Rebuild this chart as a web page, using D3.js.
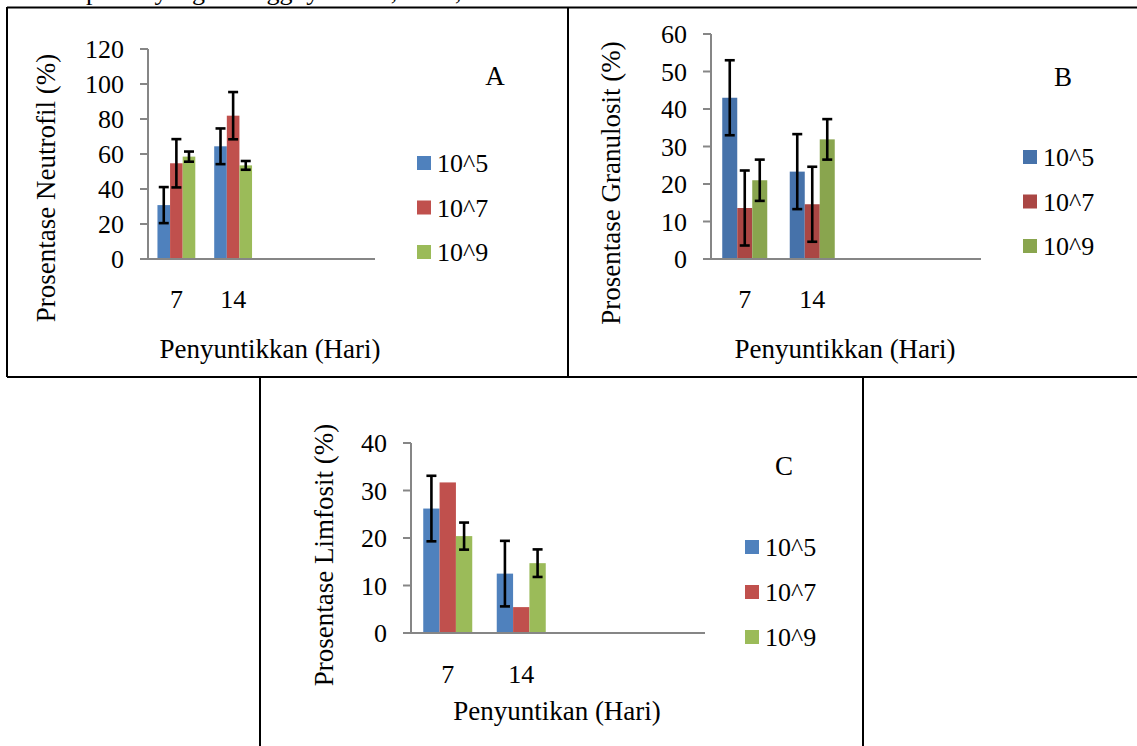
<!DOCTYPE html>
<html lang="id">
<head>
<meta charset="UTF-8">
<title>Prosentase Neutrofil, Granulosit, Limfosit</title>
<script src="https://d3js.org/d3.v7.min.js"></script>
<style>
  body { margin: 0; background: #fff; }
  svg { display: block; }
  .grid-line { stroke: #000; stroke-width: 2px; }
  .axis-line { stroke: #868686; stroke-width: 2px; }
  .err { stroke: #000; stroke-width: 2.6px; }
</style>
</head>
<body>
<svg width="1137" height="746"></svg>
<script>
// categories (days) on the x axis; Excel left two empty slots after them
const days = ["7", "14"];
const emptySlots = 2;
const doses = ["10^5", "10^7", "10^9"];

// values per dose (rows) and day (columns)
const neutrofilValues = [[30.8, 64.4], [54.7, 81.9], [58.5, 53.5]];
const neutrofilErrors = [[10.3, 10.2], [13.8, 13.5], [2.9, 2.5]];
const neutrofilTicks = [0, 20, 40, 60, 80, 100, 120];

const granulositValues = [[43.0, 23.3], [13.6, 14.6], [21.0, 31.9]];
const granulositErrors = [[10.0, 10.0], [10.0, 10.0], [5.5, 5.4]];
const granulositTicks = [0, 10, 20, 30, 40, 50, 60];

const limfositValues = [[26.2, 12.5], [31.7, 5.45], [20.4, 14.7]];
const limfositErrors = [[6.9, 6.9], [null, null], [2.85, 2.9]];
const limfositTicks = [0, 10, 20, 30, 40];

const colorsLight = ["#4F81BD", "#C0504D", "#9BBB59"];
const colorsDark = ["#4672AA", "#AA4644", "#89A54E"];

const serif = "'Liberation Serif', Tinos, 'Times New Roman', Times, serif";

const svg = d3.select("svg")
  .attr("font-family", serif)
  .style("font-family", serif);

// partly cut-off line of the page text above the table
svg.append("text")
  .attr("x", 86).attr("y", -0.5)
  .style("font-size", "26px")
  .text("pakan yang tertinggi yaitu 10, 10^5, 10^7");

// table borders
const borders = [
  [7, 7.5, 1140, 7.5],      // top
  [7, 7, 7, 377],           // left
  [7, 377, 1140, 377],      // bottom of first row
  [568, 7, 568, 377],       // divider
  [260, 377, 260, 750],     // second row left
  [863, 377, 863, 750]      // second row right
];
svg.selectAll("line.grid-line")
  .data(borders)
  .enter().append("line")
  .attr("class", "grid-line")
  .attr("x1", d => d[0]).attr("y1", d => d[1])
  .attr("x2", d => d[2]).attr("y2", d => d[3]);

function drawPanel(p) {
  const g = svg.append("g");
  const slots = days.map((d, i) => "c" + i)
    .concat(d3.range(emptySlots).map(i => "e" + i));

  const x = d3.scaleBand().domain(slots).range([p.x0, p.x1]).padding(0);
  const xInner = d3.scaleBand().domain(doses)
    .range([0, x.bandwidth()]).paddingInner(0).paddingOuter(0.75);
  const y = d3.scaleLinear()
    .domain([0, d3.max(p.ticks)])
    .range([p.y0, p.y1]);

  // y axis ticks and labels
  g.selectAll("line.ytick")
    .data(p.ticks)
    .enter().append("line")
    .attr("class", "axis-line ytick")
    .attr("x1", p.x0 - 8).attr("x2", p.x0)
    .attr("y1", d => y(d)).attr("y2", d => y(d));

  g.selectAll("text.ytick")
    .data(p.ticks)
    .enter().append("text")
    .attr("class", "ytick")
    .attr("x", p.x0 - 24)
    .attr("y", d => y(d))
    .attr("dy", "0.35em")
    .attr("text-anchor", "end")
    .style("font-size", "26px")
    .text(d => d);

  // bars
  doses.forEach((dose, k) => {
    const rows = days.map((day, i) => ({
      slot: "c" + i,
      v: p.values[k][i],
      e: p.errors[k][i]
    }));

    g.selectAll("rect.s" + k)
      .data(rows)
      .enter().append("rect")
      .attr("class", "s" + k)
      .attr("x", d => x(d.slot) + xInner(dose))
      .attr("width", xInner.bandwidth())
      .attr("y", d => y(d.v))
      .attr("height", d => y(0) - y(d.v))
      .attr("fill", p.colors[k]);

    const withErr = rows.filter(d => d.e != null);
    const cx = d => x(d.slot) + xInner(dose) + xInner.bandwidth() / 2;
    const cap = 5;

    g.selectAll("line.ev" + k)
      .data(withErr)
      .enter().append("line")
      .attr("class", "err ev" + k)
      .attr("x1", cx).attr("x2", cx)
      .attr("y1", d => y(d.v + d.e)).attr("y2", d => y(d.v - d.e));

    ["hi", "lo"].forEach(s => {
      const end = d => y(s === "hi" ? d.v + d.e : d.v - d.e);
      g.selectAll("line.ec" + k + s)
        .data(withErr)
        .enter().append("line")
        .attr("class", "err ec" + k + s)
        .attr("x1", d => cx(d) - cap).attr("x2", d => cx(d) + cap)
        .attr("y1", end).attr("y2", end);
    });
  });

  // axis lines
  g.append("line").attr("class", "axis-line")
    .attr("x1", p.x0).attr("x2", p.x0)
    .attr("y1", p.y1).attr("y2", p.y0 + 1);
  g.append("line").attr("class", "axis-line")
    .attr("x1", p.x0).attr("x2", p.x1)
    .attr("y1", p.y0).attr("y2", p.y0);

  // category labels
  g.selectAll("text.xtick")
    .data(days)
    .enter().append("text")
    .attr("class", "xtick")
    .attr("x", (d, i) => x("c" + i) + x.bandwidth() / 2)
    .attr("y", p.xTickY)
    .attr("text-anchor", "middle")
    .style("font-size", "26px")
    .text(d => d);

  // axis titles
  g.append("text")
    .attr("x", p.xTitle[0]).attr("y", p.xTitle[1])
    .attr("text-anchor", "middle")
    .style("font-size", "27px")
    .text(p.xLabel);

  g.append("text")
    .attr("transform", `translate(${p.yTitle[0]},${p.yTitle[1]}) rotate(-90)`)
    .attr("text-anchor", "middle")
    .style("font-size", "27px")
    .text(p.yLabel);

  // legend
  const leg = g.selectAll("g.leg")
    .data(doses)
    .enter().append("g")
    .attr("class", "leg")
    .attr("transform", (d, i) => `translate(${p.legend[0]},${p.legend[1] + i * p.legendStep})`);
  leg.append("rect")
    .attr("x", 0).attr("y", -7)
    .attr("width", 14).attr("height", 14)
    .attr("fill", (d, i) => p.colors[i]);
  leg.append("text")
    .attr("x", 20).attr("y", 0)
    .attr("dy", "0.35em")
    .style("font-size", "26px")
    .text(d => d);

  // panel letter
  g.append("text")
    .attr("x", p.letter[0]).attr("y", p.letter[1])
    .attr("text-anchor", "middle")
    .style("font-size", "27px")
    .text(p.name);
}

drawPanel({
  name: "A",
  values: neutrofilValues, errors: neutrofilErrors, ticks: neutrofilTicks,
  colors: colorsLight,
  x0: 148, x1: 375, y0: 259, y1: 49,
  xTickY: 308,
  xLabel: "Penyuntikkan (Hari)", xTitle: [270, 358],
  yLabel: "Prosentase Neutrofil (%)", yTitle: [55, 188],
  legend: [417, 163], legendStep: 44.5,
  letter: [495, 85]
});

drawPanel({
  name: "B",
  values: granulositValues, errors: granulositErrors, ticks: granulositTicks,
  colors: colorsDark,
  x0: 711, x1: 981, y0: 259, y1: 34,
  xTickY: 308,
  xLabel: "Penyuntikkan (Hari)", xTitle: [845, 358],
  yLabel: "Prosentase Granulosit (%)", yTitle: [620, 183],
  legend: [1023, 157], legendStep: 44.5,
  letter: [1063, 86]
});

drawPanel({
  name: "C",
  values: limfositValues, errors: limfositErrors, ticks: limfositTicks,
  colors: colorsLight,
  x0: 411, x1: 705, y0: 633, y1: 443,
  xTickY: 683,
  xLabel: "Penyuntikan (Hari)", xTitle: [557, 720],
  yLabel: "Prosentase Limfosit (%)", yTitle: [333, 555],
  legend: [745, 547], legendStep: 45,
  letter: [784, 475]
});
</script>
</body>
</html>
